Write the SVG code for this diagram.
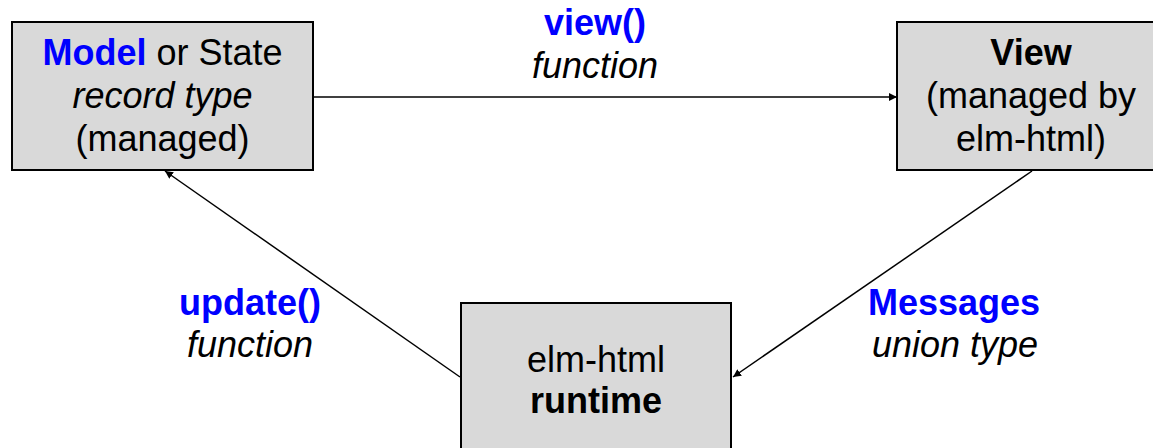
<svg xmlns="http://www.w3.org/2000/svg" width="1153" height="448" viewBox="0 0 1153 448">
<style>
.box{fill:#d9d9d9;stroke:#000;stroke-width:2}
text{font-family:"Liberation Sans",Arial,sans-serif;font-size:36px;fill:#000;text-anchor:middle}
.b{font-weight:bold}
.i{font-style:italic}
.blue{fill:#0000ff}
.edge{stroke:#000;stroke-width:1.5;fill:none;marker-end:url(#ah)}
</style>
<defs>
<marker id="ah" viewBox="0 0 10 10" refX="10" refY="5" markerWidth="8" markerHeight="8" markerUnits="userSpaceOnUse" orient="auto">
<path d="M0,0 L10,5 L0,10 z" fill="#000"/>
</marker>
</defs>
<g id="model">
<rect class="box" x="12" y="22" width="301" height="148"/>
<text x="162.5" y="65"><tspan class="b blue">Model</tspan> or State</text>
<text class="i" x="162.5" y="108">record type</text>
<text x="162.5" y="151">(managed)</text>
</g>
<g id="view">
<rect class="box" x="897" y="22" width="268" height="148"/>
<text class="b" x="1031" y="65">View</text>
<text x="1031" y="108">(managed by</text>
<text x="1031" y="151">elm-html)</text>
</g>
<g id="runtime">
<rect class="box" x="461" y="303" width="270" height="160"/>
<text x="596" y="372">elm-html</text>
<text class="b" x="596" y="413">runtime</text>
</g>
<g id="connectors">
<line class="edge" x1="313" y1="97" x2="897" y2="97"/>
<line class="edge" x1="1032" y1="171" x2="733" y2="377"/>
<line class="edge" x1="460" y1="377" x2="165" y2="171"/>
</g>
<g id="labels">
<text class="b blue" x="595" y="35">view()</text>
<text class="i" x="595" y="78">function</text>
<text class="b blue" x="250" y="315">update()</text>
<text class="i" x="250" y="357">function</text>
<text class="b blue" x="954" y="315">Messages</text>
<text class="i" x="955" y="357">union type</text>
</g>
</svg>
